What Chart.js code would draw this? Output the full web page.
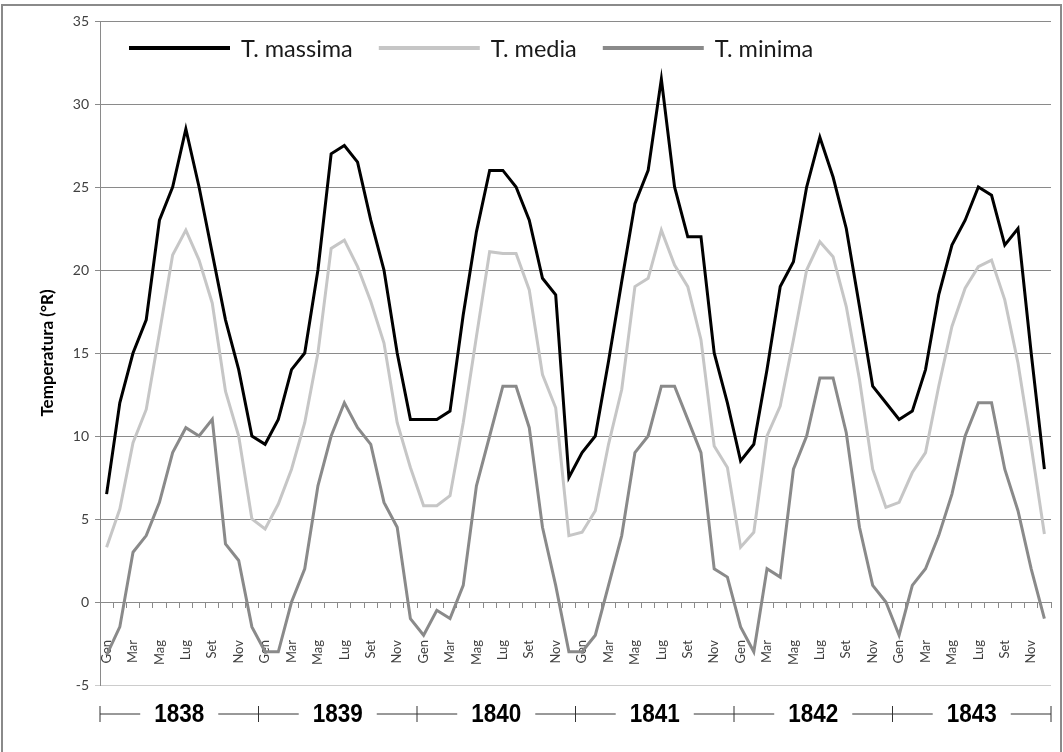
<!DOCTYPE html>
<html>
<head>
<meta charset="utf-8">
<script src="https://cdn.jsdelivr.net/npm/chart.js@4.4.0/dist/chart.umd.min.js"></script>
<style>
  html, body { margin: 0; padding: 0; background: #fff; }
  #wrap { width: 1063px; height: 752px; position: relative; }
</style>
</head>
<body>
<div id="wrap"><canvas id="myChart"></canvas></div>
<script>
const years = ['1838', '1839', '1840', '1841', '1842', '1843'];
const months = ['Gen', 'Feb', 'Mar', 'Apr', 'Mag', 'Giu', 'Lug', 'Ago', 'Set', 'Ott', 'Nov', 'Dic'];

// valori mensili in gradi Réaumur, gen 1838 - dic 1843
const tMassima = [
  6.5, 12, 15, 17, 23, 25, 28.5, 25, 21, 17, 14, 10,
  9.5, 11, 14, 15, 20, 27, 27.5, 26.5, 23, 20, 15, 11,
  11, 11, 11.5, 17.3, 22.3, 26, 26, 25, 23, 19.5, 18.5, 7.5,
  9, 10, 14.5, 19.3, 24, 26, 31.5, 25, 22, 22, 15, 12,
  8.5, 9.5, 14, 19, 20.5, 25, 28, 25.6, 22.5, 17.8, 13, 12,
  11, 11.5, 14, 18.5, 21.5, 23, 25, 24.5, 21.5, 22.5, 15, 8
];
const tMedia = [
  3.3, 5.6, 9.6, 11.6, 16.2, 20.9, 22.4, 20.6, 18, 12.7, 10, 5,
  4.4, 5.9, 8, 10.8, 15, 21.3, 21.8, 20.2, 18.1, 15.6, 10.8, 8.1,
  5.8, 5.8, 6.4, 10.8, 16, 21.1, 21, 21, 18.8, 13.7, 11.7, 4,
  4.2, 5.5, 9.5, 12.8, 19, 19.5, 22.4, 20.3, 19, 15.8, 9.4, 8.1,
  3.3, 4.2, 10, 11.8, 15.8, 20, 21.7, 20.8, 17.8, 13.4, 8, 5.7,
  6, 7.8, 9, 13, 16.6, 18.9, 20.2, 20.6, 18.2, 14.4, 9.4, 4.1
];
const tMinima = [
  -3.2, -1.5, 3, 4, 6, 9, 10.5, 10, 11, 3.5, 2.5, -1.5,
  -3, -3, 0, 2, 7, 10, 12, 10.5, 9.5, 6, 4.5, -1,
  -2, -0.5, -1, 1, 7, 10, 13, 13, 10.5, 4.5, 1, -3,
  -3, -2, 1, 4, 9, 10, 13, 13, 11, 9, 2, 1.5,
  -1.5, -3, 2, 1.5, 8, 10, 13.5, 13.5, 10.2, 4.5, 1, 0,
  -2, 1, 2, 4, 6.5, 10, 12, 12, 8, 5.5, 2, -1
];

const labels = years.flatMap(() => months);

// cornice grigia attorno al grafico
const frame = {
  id: 'frame',
  beforeDraw(chart) {
    const ctx = chart.ctx;
    ctx.save();
    ctx.fillStyle = '#fff';
    ctx.fillRect(0, 0, chart.width, chart.height);
    ctx.restore();
  },
  afterDraw(chart) {
    const ctx = chart.ctx;
    ctx.save();
    ctx.strokeStyle = '#8a8a8a';
    ctx.lineWidth = 2;
    ctx.strokeRect(2, 5, chart.width - 4, chart.height + 10);
    ctx.restore();
  }
};

// legenda dentro l'area del grafico, in alto a sinistra
const insideLegend = {
  id: 'insideLegend',
  afterDraw(chart) {
    const ctx = chart.ctx;
    const y = chart.chartArea.top + 27;
    let x = chart.chartArea.left + 29;
    ctx.save();
    ctx.font = '23.5px Lato';
    ctx.textBaseline = 'middle';
    chart.data.datasets.forEach(ds => {
      ctx.strokeStyle = ds.borderColor;
      ctx.lineWidth = 4;
      ctx.beginPath();
      ctx.moveTo(x, y);
      ctx.lineTo(x + 101, y);
      ctx.stroke();
      x += 112;
      ctx.fillStyle = '#1a1a1a';
      ctx.fillText(ds.label, x, y + 1);
      x += ctx.measureText(ds.label).width + 26;
    });
    ctx.restore();
  }
};

// asse degli anni sotto il grafico
const yearAxis = {
  id: 'yearAxis',
  afterDraw(chart) {
    const xs = chart.scales.x;
    const ctx = chart.ctx;
    const step = (chart.chartArea.right - chart.chartArea.left) / labels.length;
    const y = chart.chartArea.bottom + 29;
    ctx.save();
    ctx.strokeStyle = '#333';
    ctx.lineWidth = 1;
    ctx.fillStyle = '#000';
    ctx.font = 'bold 25px "Liberation Sans", Arial, sans-serif';
    ctx.textAlign = 'center';
    ctx.textBaseline = 'middle';
    const sx = 0.9;
    years.forEach((yr, k) => {
      const x0 = xs.getPixelForValue(k * 12) - step / 2;
      const x1 = xs.getPixelForValue(k * 12 + 11) + step / 2;
      const cx = (x0 + x1) / 2;
      const w = ctx.measureText(yr).width * sx;
      ctx.beginPath();
      ctx.moveTo(x0, y - 8); ctx.lineTo(x0, y + 8);
      ctx.moveTo(x0, y); ctx.lineTo(cx - w / 2 - 14, y);
      ctx.moveTo(cx + w / 2 + 14, y); ctx.lineTo(x1, y);
      if (k === years.length - 1) { ctx.moveTo(x1, y - 8); ctx.lineTo(x1, y + 8); }
      ctx.stroke();
      ctx.save();
      ctx.translate(cx, y + 1);
      ctx.scale(sx, 1);
      ctx.fillText(yr, 0, 0);
      ctx.restore();
    });
    ctx.restore();
  }
};

const ctx = document.getElementById('myChart');

new Chart(ctx, {
  type: 'line',
  data: {
    labels: labels,
    datasets: [
      { label: 'T. massima', data: tMassima, borderColor: '#000000', backgroundColor: '#000000' },
      { label: 'T. media', data: tMedia, borderColor: '#c6c6c6', backgroundColor: '#c6c6c6' },
      { label: 'T. minima', data: tMinima, borderColor: '#8a8a8a', backgroundColor: '#8a8a8a' },
    ],
  },
  options: {
    responsive: true,
    maintainAspectRatio: false,
    animation: false,
    layout: {
      padding: { left: 0, top: 21, right: 12, bottom: 67 },
    },
    elements: {
      point: { radius: 0 },
      line: { tension: 0, borderWidth: 3 },
    },
    plugins: {
      legend: { display: false },
      tooltip: { enabled: false },
    },
    scales: {
      x: {
        type: 'category',
        position: { y: 0 },
        offset: true,
        afterFit: s => { s.paddingLeft = 0; s.paddingRight = 0; },
        grid: { offset: true, drawOnChartArea: false, drawTicks: true, tickLength: 5, color: '#8a8a8a' },
        border: { color: '#8a8a8a' },
        ticks: {
          autoSkip: false,
          minRotation: 90,
          maxRotation: 90,
          padding: 33,
          color: '#404040',
          font: { family: 'Lato', size: 13 },
          callback: (v, i) => (i % 2 === 0 ? months[i % 12] : ''),
        },
      },
      y: {
        min: -5,
        max: 35,
        afterFit: s => { s.width = 100; },
        ticks: {
          stepSize: 5,
          padding: 6,
          color: '#404040',
          font: { family: 'Lato', size: 14 },
        },
        grid: {
          color: c => (c.tick && c.tick.value === -5 ? '#cccccc' : '#8a8a8a'),
          tickLength: 5,
        },
        border: { color: '#8a8a8a' },
        title: {
          display: true,
          text: 'Temperatura (°R)',
          color: '#000',
          font: { family: 'Lato', size: 17, weight: 'bold' },
          padding: { top: 37, bottom: 0 },
        },
      },
    },
  },
  plugins: [frame, insideLegend, yearAxis],
});
</script>
</body>
</html>
